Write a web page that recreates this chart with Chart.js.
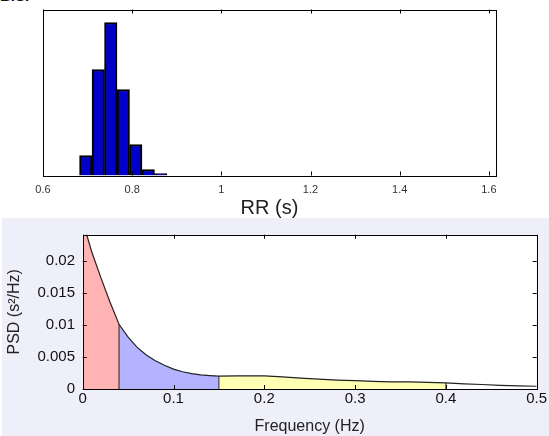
<!DOCTYPE html>
<html>
<head>
<meta charset="utf-8">
<script src="https://cdn.jsdelivr.net/npm/chart.js@4.4.1/dist/chart.umd.min.js"></script>
<style>
html, body { margin: 0; padding: 0; background: #fff; width: 549px; height: 436px; overflow: hidden; font-family: "Liberation Sans", Arial, sans-serif; }
#tag { position: absolute; left: 0; top: -13px; font-size: 15px; font-weight: bold; color: #111; }
#rr { position: absolute; left: 0; top: 0; }
#bot { position: absolute; left: 2px; top: 218px; width: 547px; height: 218px; background: #efeffa; }
</style>
</head>
<body>
<div id="tag">B.S.</div>
<canvas id="rr" width="549" height="218"></canvas>
<div id="bot"><canvas id="psd" width="547" height="218"></canvas></div>
<script>
// RR interval histogram
const rrBins = [0.696, 0.724, 0.752, 0.780, 0.808, 0.836, 0.864];
const rrCounts = [20, 106, 153, 86, 31, 6, 2];
const rrTicks = [0.6, 0.8, 1, 1.2, 1.4, 1.6];

// power spectral density
const freq = [0, 0.004, 0.01, 0.02, 0.03, 0.04, 0.05, 0.06, 0.07, 0.08, 0.09, 0.10, 0.11, 0.12, 0.13, 0.14, 0.15,
  0.17, 0.20, 0.22, 0.24, 0.26, 0.28, 0.30, 0.32, 0.34, 0.36, 0.38, 0.40, 0.42, 0.44, 0.46, 0.48, 0.50];
const psd = [0.0258, 0.0243, 0.0214, 0.0174, 0.0136, 0.0101, 0.0081, 0.0065, 0.0053, 0.0044, 0.0037, 0.0031, 0.0027, 0.0024, 0.0022, 0.0021, 0.0020,
  0.00205, 0.00205, 0.0019, 0.0017, 0.00155, 0.0014, 0.0013, 0.00118, 0.00112, 0.00112, 0.00105, 0.00095, 0.0008, 0.0007, 0.00058, 0.00048, 0.00043];
const bandEdges = [0, 0.04, 0.15, 0.4];   // VLF / LF / HF
const bandColors = ['#ffb3b3', '#b3b3ff', '#ffffb3'];
const freqTicks = [0, 0.1, 0.2, 0.3, 0.4, 0.5];
const psdTicks = [0, 0.005, 0.01, 0.015, 0.02];

const font = '"Liberation Sans", Arial, sans-serif';

// white axes box with matlab style inner ticks
const frame = {
  id: 'frame',
  beforeDraw(c) {
    const a = c.chartArea, ctx = c.ctx;
    ctx.save();
    ctx.fillStyle = '#fff';
    ctx.fillRect(a.left, a.top, a.width, a.height);
    ctx.restore();
  },
  afterDatasetsDraw(c, args, o) {
    const a = c.chartArea, ctx = c.ctx, L = 4;
    ctx.save();
    ctx.strokeStyle = '#000';
    ctx.lineWidth = 1;
    ctx.beginPath();
    const xs = c.scales.x;
    xs.ticks.forEach(t => {
      const p = Math.round(xs.getPixelForValue(t.value)) + 0.5;
      ctx.moveTo(p, a.bottom); ctx.lineTo(p, a.bottom - L);
      ctx.moveTo(p, a.top); ctx.lineTo(p, a.top + L);
    });
    if (o.yTicks) {
      const ys = c.scales.y;
      ys.ticks.forEach(t => {
        const p = Math.round(ys.getPixelForValue(t.value)) + 0.5;
        ctx.moveTo(a.left, p); ctx.lineTo(a.left + L, p);
        ctx.moveTo(a.right, p); ctx.lineTo(a.right - L, p);
      });
    }
    ctx.stroke();
    ctx.strokeRect(Math.round(a.left) + 0.5, Math.round(a.top) + 0.5, Math.round(a.width), Math.round(a.height));
    ctx.restore();
  }
};

new Chart(document.getElementById('rr'), {
  type: 'bar',
  data: {
    datasets: [{
      data: rrBins.map((b, i) => ({ x: b, y: rrCounts[i] })),
      backgroundColor: '#0000c8',
      borderColor: '#000',
      borderWidth: 2,
      barPercentage: 1,
      categoryPercentage: 1
    }]
  },
  options: {
    responsive: false,
    animation: false,
    events: [],
    layout: { padding: { left: 43, right: 53, top: 9.5, bottom: 0 } },
    plugins: { legend: { display: false }, tooltip: { enabled: false }, frame: { yTicks: false } },
    scales: {
      x: {
        type: 'linear', min: 0.6, max: 1.616, offset: false,
        afterBuildTicks: s => { s.ticks = rrTicks.map(v => ({ value: v })); },
        afterFit: s => { s.height = 42.5; },
        grid: { display: false, drawTicks: false },
        border: { display: false },
        ticks: { padding: 8, color: '#333', font: { family: font, size: 11 }, callback: v => String(v), maxRotation: 0 },
        title: { display: true, text: 'RR (s)', color: '#222', font: { family: font, size: 20 }, padding: { top: 0, bottom: -2 } }
      },
      y: { display: false, min: 0, max: 166 }
    }
  },
  plugins: [frame]
});

const curve = freq.map((f, i) => ({ x: f, y: psd[i] }));
const datasets = [{
  data: curve, borderColor: '#222', borderWidth: 1.2, pointRadius: 0, fill: false, order: 0
}];
bandEdges.slice(1).forEach(e => {
  datasets.push({
    data: [{ x: e, y: 0 }, { x: e, y: psd[freq.indexOf(e)] }],
    borderColor: '#222', borderWidth: 1, pointRadius: 0, fill: false, order: 1
  });
});
bandColors.forEach((col, k) => {
  const lo = bandEdges[k], hi = bandEdges[k + 1];
  datasets.push({
    data: curve.filter(p => p.x >= lo && p.x <= hi),
    backgroundColor: col, borderWidth: 0, pointRadius: 0, fill: 'origin', order: 2
  });
});

new Chart(document.getElementById('psd'), {
  type: 'line',
  data: { datasets },
  options: {
    responsive: false,
    animation: false,
    events: [],
    layout: { padding: { left: 0, right: 12.3, top: 2.7, bottom: 0 } },
    plugins: { legend: { display: false }, tooltip: { enabled: false }, frame: { yTicks: true } },
    scales: {
      x: {
        type: 'linear', min: 0, max: 0.5,
        afterBuildTicks: s => { s.ticks = freqTicks.map(v => ({ value: v })); },
        afterFit: s => { s.height = 47; },
        grid: { display: false, drawTicks: false },
        border: { display: false },
        ticks: { padding: 1, color: '#111', font: { family: font, size: 15 }, callback: v => String(v), maxRotation: 0 },
        title: { display: true, text: 'Frequency (Hz)', color: '#222', font: { family: font, size: 16 }, padding: { top: 0, bottom: 0 } }
      },
      y: {
        min: 0, max: 0.0241,
        afterBuildTicks: s => { s.ticks = psdTicks.map(v => ({ value: v })); },
        afterFit: s => { s.width = 80.7; },
        grid: { display: false, drawTicks: false },
        border: { display: false },
        ticks: { padding: 7.7, color: '#111', font: { family: font, size: 15 }, callback: v => String(v) },
        title: { display: true, text: 'PSD (s²/Hz)', color: '#222', font: { family: font, size: 16 }, padding: { top: 3.4, bottom: 0 } }
      }
    }
  },
  plugins: [frame]
});
</script>
</body>
</html>
